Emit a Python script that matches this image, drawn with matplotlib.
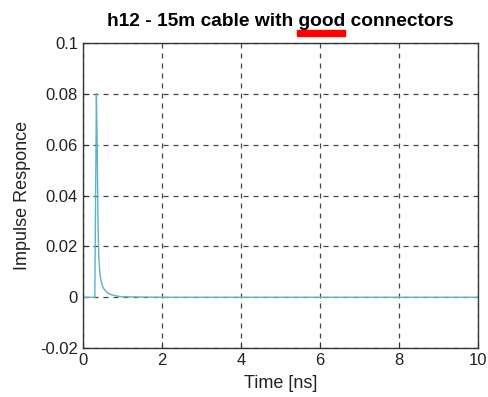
import matplotlib
matplotlib.use("Agg")
import matplotlib.pyplot as plt
from matplotlib.patches import Rectangle

plt.rcParams['font.family'] = ['Liberation Sans', 'DejaVu Sans']

# impulse response
time_ns = [0.0, 0.30, 0.32, 0.34, 0.36, 0.38, 0.40, 0.43, 0.47, 0.52, 0.60, 0.70, 0.85, 1.0, 2.0, 10.0]
response = [0.0, 0.0, 0.04, 0.080, 0.060, 0.030, 0.016, 0.009, 0.0055, 0.0035, 0.002, 0.0011, 0.0005, 0.0002, 0.0, 0.0]

x_ticks = [0, 2, 4, 6, 8, 10]
y_ticks = [-0.02, 0, 0.02, 0.04, 0.06, 0.08, 0.1]
y_labels = ["-0.02", "0", "0.02", "0.04", "0.06", "0.08", "0.1"]

fig = plt.figure(figsize=(4.88, 3.97), dpi=100)
ax = fig.add_axes([0.170, 0.123, 0.810, 0.769])
ax.plot(time_ns, response, color="#5ab4c8", linewidth=1.0)

ax.set_xlim(0, 10)
ax.set_ylim(-0.02, 0.1)
ax.set_xticks(x_ticks)
ax.set_yticks(y_ticks)
ax.set_yticklabels(y_labels)
ax.tick_params(direction="in", labelsize=12, length=4, color="#333333",
               labelcolor="#222222")
ax.grid(True, linestyle=(0, (4, 4)), color="#444444", linewidth=0.9)
for s in ax.spines.values():
    s.set_color("#333333")
    s.set_linewidth(1.0)

ax.set_xlabel("Time [ns]", fontsize=13, labelpad=5, color="#222222")
ax.set_ylabel("Impulse Responce", fontsize=13, labelpad=7, color="#222222")
ax.set_title("h12 - 15m cable with good connectors", fontsize=13.8,
             fontweight="bold", pad=12)

# red underline mark below "good"
fig.patches.append(Rectangle((297 / 488, 1 - 36 / 397), 48 / 488, 6 / 397,
                             transform=fig.transFigure, color="#ff0000", zorder=5))

fig.savefig("out.png", dpi=100)
